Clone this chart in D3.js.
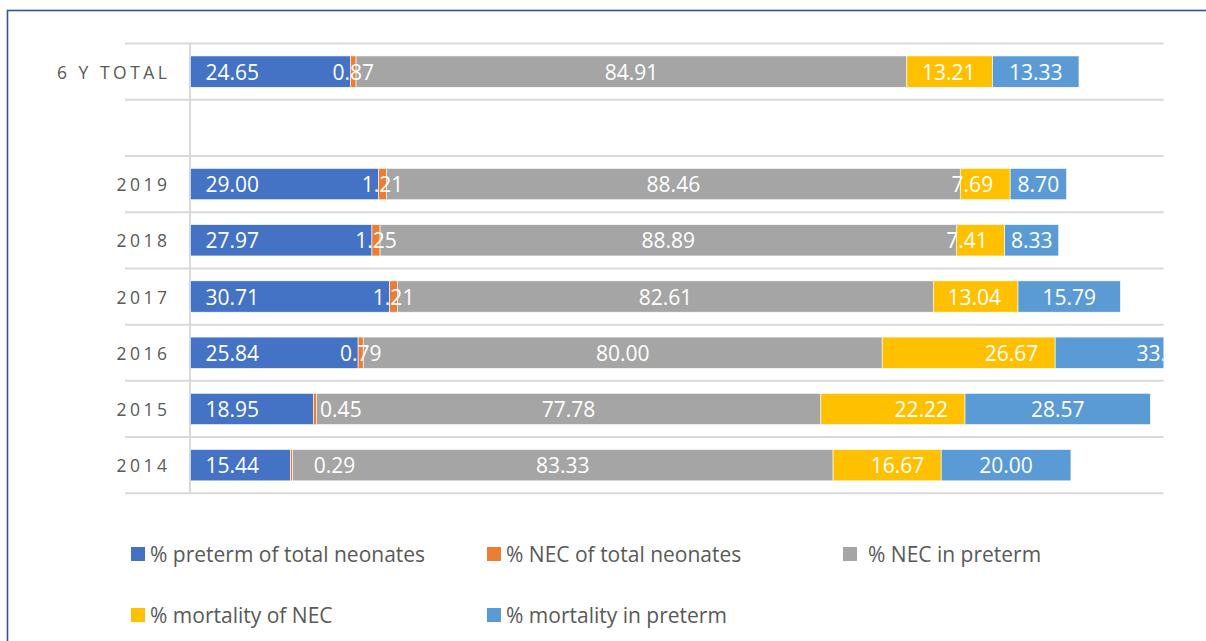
<!DOCTYPE html>
<html>
<head>
<meta charset="utf-8">
<script src="https://cdn.jsdelivr.net/npm/d3@7"></script>
<style>
  html, body { margin: 0; padding: 0; background: #fff; }
  svg { display: block; }
</style>
</head>
<body>
<svg id="chart" width="1206" height="641"></svg>
<script>
// ---- data (bottom to top) ----
const categories = ["2014", "2015", "2016", "2017", "2018", "2019", " ", "6 Y TOTAL"];
const seriesNames = ["% preterm of total neonates", "% NEC of total neonates", "% NEC in preterm", "% mortality of NEC", "% mortality in preterm"];
const pretermOfTotal     = [15.44, 18.95, 25.84, 30.71, 27.97, 29.00, null, 24.65];
const necOfTotal         = [0.29, 0.45, 0.79, 1.21, 1.25, 1.21, null, 0.87];
const necInPreterm       = [83.33, 77.78, 80.00, 82.61, 88.89, 88.46, null, 84.91];
const mortalityOfNec     = [16.67, 22.22, 26.67, 13.04, 7.41, 7.69, null, 13.21];
const mortalityInPreterm = [20.00, 28.57, 33.33, 15.79, 8.33, 8.70, null, 13.33];
const seriesValues = [pretermOfTotal, necOfTotal, necInPreterm, mortalityOfNec, mortalityInPreterm];
const xDomain = [0, 150];

// ---- styles ----
const colors = ["#4472C4", "#ED7D31", "#A5A5A5", "#FFC000", "#5B9BD5"];
const labelPos = ["base", "center", "center", "end", "center"];
// manual nudges of a few crowded labels (series index -> category -> px)
const labelNudge = { 1: { "2014": 43, "2015": 26 } };
const legendTextGap = [19, 19, 25, 19, 19];
const FONT = "'Open Sans', 'Noto Sans', sans-serif";

const svg = d3.select("#chart");

// outer frame
svg.append("rect").attr("x", 7.5).attr("y", 10.5).attr("width", 1400).attr("height", 800)
  .attr("fill", "none").attr("stroke", "#2F5597").attr("stroke-width", 1.6);

const x = d3.scaleLinear().domain(xDomain).range([190.5, 1163.5]);
const y = d3.scaleBand().domain(categories.slice().reverse()).range([43.5, 493.3]).paddingInner(0.443).paddingOuter(0.2215);
const yBand = d3.scaleBand().domain(categories.slice().reverse()).range([43.5, 493.3]);

// gridlines at band boundaries
const bounds = yBand.domain().map(c => yBand(c)).concat([yBand.range()[1]]);
svg.append("g").selectAll("line").data(bounds).join("line")
  .attr("x1", 125).attr("x2", x.range()[1])
  .attr("y1", d => d).attr("y2", d => d)
  .attr("stroke", "#D9D9D9").attr("stroke-width", 2);

// vertical axis line
svg.append("line").attr("x1", x(0) - 0.5).attr("x2", x(0) - 0.5)
  .attr("y1", yBand.range()[0]).attr("y2", yBand.range()[1])
  .attr("stroke", "#D9D9D9").attr("stroke-width", 2);

// category labels
const ls = 3.5;
svg.append("g").selectAll("text").data(categories).join("text")
  .attr("x", 167 + ls)
  .attr("y", c => yBand(c) + yBand.bandwidth() / 2)
  .attr("text-anchor", "end").attr("dominant-baseline", "central")
  .attr("font-family", FONT).attr("font-size", 17.5).attr("letter-spacing", ls)
  .attr("fill", "#595959")
  .text(c => c.trim());

// stacked data
const rows = categories.map((c, i) => {
  const r = { cat: c };
  seriesNames.forEach((s, k) => r[s] = seriesValues[k][i] || 0);
  return r;
});
const stack = d3.stack().keys(seriesNames)(rows);

svg.append("defs").append("clipPath").attr("id", "plotclip")
  .append("rect").attr("x", x.range()[0]).attr("y", 0)
  .attr("width", x.range()[1] - x.range()[0]).attr("height", 641);

const plot = svg.append("g").attr("clip-path", "url(#plotclip)");

stack.forEach((layer, k) => {
  plot.append("g").selectAll("rect").data(layer.filter(d => d.data[seriesNames[k]] > 0)).join("rect")
    .attr("x", d => x(d[0]))
    .attr("width", d => x(d[1]) - x(d[0]))
    .attr("y", d => y(d.data.cat))
    .attr("height", y.bandwidth())
    .attr("fill", colors[k])
    .attr("stroke", "#fff").attr("stroke-width", 0.6);
});

stack.forEach((layer, k) => {
  plot.append("g").selectAll("text").data(layer.filter(d => d.data[seriesNames[k]] > 0)).join("text")
    .attr("x", d => {
      const nudge = (labelNudge[k] && labelNudge[k][d.data.cat]) || 0;
      if (labelPos[k] === "base") return x(d[0]) + 15;
      if (labelPos[k] === "end") return x(d[1]) - 17;
      return (x(d[0]) + x(d[1])) / 2 + nudge;
    })
    .attr("y", d => y(d.data.cat) + y.bandwidth() / 2)
    .attr("text-anchor", labelPos[k] === "base" ? "start" : labelPos[k] === "end" ? "end" : "middle")
    .attr("dominant-baseline", "central")
    .attr("font-family", FONT).attr("font-size", 21)
    .attr("fill", "#fff")
    .text(d => d.data[seriesNames[k]].toFixed(2));
});

// legend
const legendItems = seriesNames.map((s, k) => ({ name: s, color: colors[k], col: k % 3, row: Math.floor(k / 3), gap: legendTextGap[k] }));
const lg = svg.append("g").selectAll("g").data(legendItems).join("g")
  .attr("transform", d => `translate(${131 + d.col * 356},${554 + d.row * 61})`);
lg.append("rect").attr("x", 0).attr("y", -7).attr("width", 14).attr("height", 14).attr("fill", d => d.color);
lg.append("text").attr("x", d => d.gap).attr("y", 0).attr("dominant-baseline", "central")
  .attr("font-family", FONT).attr("font-size", 21).attr("fill", "#595959")
  .text(d => d.name);
</script>
</body>
</html>
